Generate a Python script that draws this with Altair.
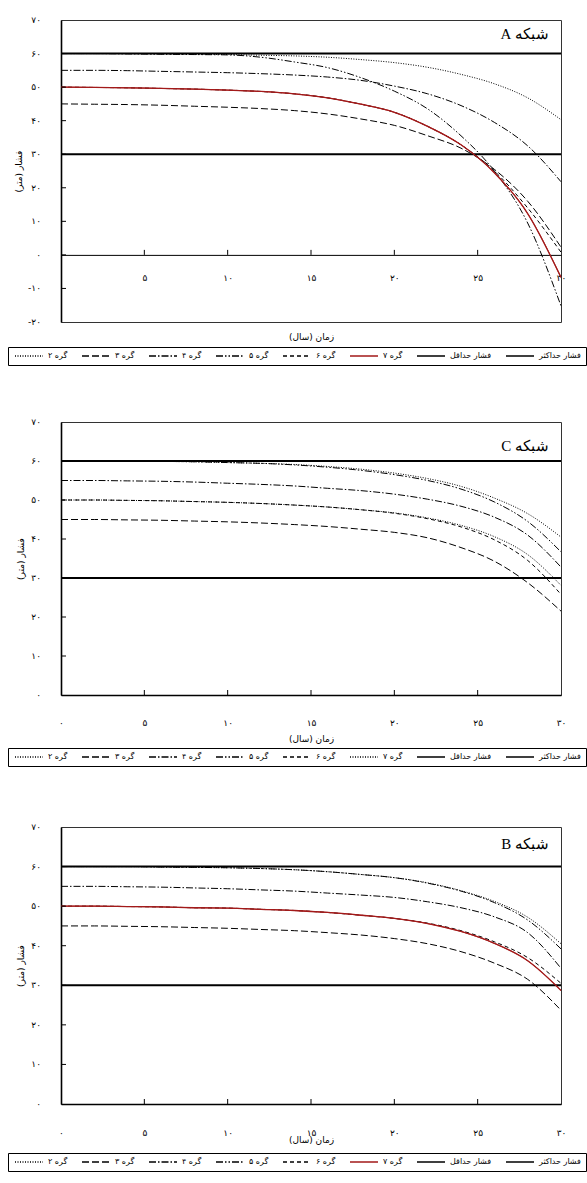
import altair as alt
import pandas as pd

# Simulation years (x) and pressure head in metres for each node
years = [0, 2, 4, 6, 8, 10, 12, 14, 16, 18, 20, 22, 24, 26, 28, 30]

# Network A
a_node2 = [60.0, 60.0, 60.0, 59.9, 59.8, 59.7, 59.5, 59.3, 58.9, 58.2, 57.3, 55.9, 53.8, 51.0, 46.8, 40.3]
a_node3 = [45.0, 44.9, 44.8, 44.6, 44.3, 44.0, 43.6, 43.0, 42.0, 40.5, 38.6, 35.5, 31.8, 25.5, 16.0, 2.3]
a_node4 = [55.0, 55.0, 54.9, 54.7, 54.5, 54.3, 54.0, 53.6, 53.0, 52.0, 50.3, 48.0, 44.5, 39.5, 32.5, 21.8]
a_node5 = [60.0, 60.0, 59.9, 59.8, 59.7, 59.6, 58.9, 57.5, 55.8, 52.8, 48.8, 43.5, 35.5, 25.0, 9.5, -15.2]
a_node6 = [50.0, 49.9, 49.8, 49.6, 49.4, 49.1, 48.7, 48.0, 46.8, 44.9, 42.5, 38.3, 32.8, 25.0, 14.0, 0.8]
a_node7 = [50.0, 49.9, 49.8, 49.6, 49.4, 49.1, 48.7, 48.0, 46.8, 44.9, 42.5, 38.3, 32.8, 24.5, 12.3, -6.7]

# Network C
c_node2 = [60.0, 60.0, 60.0, 59.9, 59.8, 59.6, 59.4, 59.1, 58.6, 57.9, 56.9, 55.5, 53.5, 50.5, 46.5, 40.5]
c_node3 = [45.0, 45.0, 44.9, 44.8, 44.6, 44.4, 44.1, 43.7, 43.2, 42.5, 41.7, 40.3, 37.8, 34.3, 28.8, 21.5]
c_node4 = [55.0, 55.0, 54.9, 54.8, 54.6, 54.3, 54.0, 53.6, 53.0, 52.4, 51.5, 50.2, 48.4, 45.6, 41.0, 32.8]
c_node5 = [60.0, 60.0, 60.0, 59.9, 59.8, 59.6, 59.4, 59.0, 58.4, 57.6, 56.5, 55.0, 52.8, 49.5, 44.5, 36.7]
c_node6 = [50.0, 50.0, 49.9, 49.8, 49.6, 49.4, 49.1, 48.7, 48.2, 47.5, 46.6, 45.2, 43.1, 39.8, 34.5, 25.8]
c_node7 = [50.0, 50.0, 49.9, 49.8, 49.6, 49.4, 49.1, 48.7, 48.2, 47.5, 46.7, 45.4, 43.5, 40.6, 36.0, 28.1]

# Network B
b_node2 = [60.0, 60.0, 60.0, 59.9, 59.8, 59.7, 59.5, 59.2, 58.7, 58.0, 57.2, 55.9, 53.9, 51.2, 47.2, 40.5]
b_node3 = [45.0, 45.0, 44.9, 44.8, 44.6, 44.4, 44.1, 43.8, 43.3, 42.7, 41.8, 40.5, 38.5, 35.6, 31.5, 23.7]
b_node4 = [55.0, 55.0, 54.9, 54.8, 54.6, 54.4, 54.1, 53.8, 53.3, 52.8, 52.2, 51.1, 49.6, 47.3, 43.3, 34.3]
b_node5 = [60.0, 60.0, 60.0, 59.9, 59.8, 59.7, 59.5, 59.2, 58.7, 58.0, 57.2, 55.8, 53.8, 50.9, 46.5, 39.2]
b_node6 = [50.0, 50.0, 49.9, 49.8, 49.6, 49.5, 49.2, 48.9, 48.4, 47.7, 46.9, 45.7, 43.8, 41.0, 37.0, 30.5]
b_node7 = [50.0, 50.0, 49.9, 49.8, 49.6, 49.5, 49.2, 48.9, 48.4, 47.7, 46.9, 45.6, 43.6, 40.6, 36.2, 28.7]

# Allowed pressure band
limit_years = [0, 30]
max_pressure = 60
min_pressure = 30

node_names = ["گره ۲", "گره ۳", "گره ۴", "گره ۵", "گره ۶", "گره ۷"]
min_name = "فشار حداقل"
max_name = "فشار حداکثر"
series_order = node_names + [min_name, max_name]

# Tick values and their Persian-digit labels
y_values_a = [-20, -10, 0, 10, 20, 30, 40, 50, 60, 70]
y_labels_a = ["-۲۰", "-۱۰", "۰", "۱۰", "۲۰", "۳۰", "۴۰", "۵۰", "۶۰", "۷۰"]
y_values_bc = [0, 10, 20, 30, 40, 50, 60, 70]
y_labels_bc = ["۰", "۱۰", "۲۰", "۳۰", "۴۰", "۵۰", "۶۰", "۷۰"]
x_values = [0, 5, 10, 15, 20, 25, 30]
x_labels = ["۰", "۵", "۱۰", "۱۵", "۲۰", "۲۵", "۳۰"]

FONT = "DejaVu Sans"
SERIF = "Liberation Serif"
RED = "#a31a1a"
WIDTH = 500
TICK = 5  # inward tick length, px

SOLID = [1, 0]
DOT = [1, 1.5]
LONG_DASH = [7, 3]
DASH_DOT = [7, 2, 1.5, 2]
DASH_DOT_DOT = [7, 2, 1.5, 2, 1.5, 2]
DASH = [4, 3]

# long, thin legend key: a horizontal stroke drawn to the right of the slot
LEGEND_KEY = "M-1,0H13"


def persian_expr(values, labels):
    parts = [f"datum.value == {v} ? '{l}'" for v, l in zip(values, labels)]
    return " : ".join(parts) + " : ''"


def frame(nodes):
    rows = []
    for name, vals in zip(node_names, nodes):
        for t, v in zip(years, vals):
            rows.append({"t": t, "value": v, "series": name, "w": 1.0})
    for name, level in ((min_name, min_pressure), (max_name, max_pressure)):
        for t in limit_years:
            rows.append({"t": t, "value": level, "series": name, "w": 2.0})
    return pd.DataFrame(rows)


def panel(nodes, title, y_vals, y_labs, height, title_y, red_node7,
          x_shown, x_label_pad, x_title_pad, y_title_pad, legend_y):
    df = frame(nodes)
    ymin = y_vals[0]
    at_zero = ymin < 0
    # pixel row of the horizontal axis (the zero line for network A)
    axis_row = height * 70 / (70 - ymin) if at_zero else height
    offset = axis_row - height

    colors = ["black"] * 8
    dashes = [DOT, LONG_DASH, DASH_DOT, DASH_DOT_DOT, DASH,
              SOLID if red_node7 else DOT, SOLID, SOLID]
    if red_node7:
        colors[5] = RED

    legend = alt.Legend(
        title=None, orient="none", legendX=-53, legendY=legend_y,
        direction="horizontal", columns=8, symbolType=LEGEND_KEY,
        symbolSize=16, symbolStrokeWidth=1.3, labelFont=FONT,
        labelFontSize=8, labelColor="black", labelOffset=27,
        columnPadding=11, padding=5, strokeColor="black",
        fillColor="white", labelLimit=0,
    )

    x_axis = alt.Axis(
        values=x_shown, labelExpr=persian_expr(x_values, x_labels),
        title="زمان (سال)", ticks=False, grid=False,
        domainColor="black", domainWidth=1 if at_zero else 1.6,
        labelPadding=x_label_pad, titlePadding=x_title_pad,
        labelFlush=False, labelOverlap=False, offset=offset,
        labelFont=FONT, labelFontSize=9, titleFont=FONT, titleFontSize=9,
        titleFontWeight="normal", labelColor="black", titleColor="black",
    )
    # y tick labels are drawn as a text layer below; the axis keeps line + title
    y_axis = alt.Axis(
        values=y_vals, labels=False, title="فشار (متر)", ticks=False,
        grid=False, domainColor="black", domainWidth=1.6,
        titlePadding=y_title_pad, titleFont=FONT, titleFontSize=9,
        titleFontWeight="normal", titleColor="black",
    )

    x_enc = alt.X("t:Q", scale=alt.Scale(domain=[0, 30], nice=False), axis=x_axis)
    y_enc = alt.Y("value:Q", scale=alt.Scale(domain=[ymin, 70], nice=False, zero=False), axis=y_axis)

    lines = alt.Chart(df).mark_line(interpolate="monotone").encode(
        x=x_enc,
        y=y_enc,
        color=alt.Color("series:N", scale=alt.Scale(domain=series_order, range=colors), legend=legend),
        strokeDash=alt.StrokeDash("series:N", scale=alt.Scale(domain=series_order, range=dashes), legend=legend),
        strokeWidth=alt.StrokeWidth("w:Q", scale=None),
    )

    layers = [lines]
    if red_node7:
        layers.append(
            alt.Chart(df).transform_filter(alt.datum.series == node_names[5])
            .mark_line(interpolate="monotone", color=RED, strokeWidth=1.3)
            .encode(x="t:Q", y="value:Q")
        )

    # inward tick marks on both axes
    x_ticks = pd.DataFrame({"t": x_values[1:-1]})
    layers.append(
        alt.Chart(x_ticks).mark_rule(color="black", strokeWidth=1).encode(
            x="t:Q", y=alt.value(axis_row), y2=alt.value(axis_row - TICK),
        )
    )
    y_ticks = pd.DataFrame({"value": y_vals[1:-1]})
    layers.append(
        alt.Chart(y_ticks).mark_rule(color="black", strokeWidth=1).encode(
            y="value:Q", x=alt.value(0), x2=alt.value(TICK),
        )
    )

    # y tick labels in Persian digits
    y_text = pd.DataFrame({"value": y_vals, "label": y_labs})
    layers.append(
        alt.Chart(y_text).mark_text(
            align="right", baseline="middle", font=FONT, fontSize=9, color="black"
        ).encode(y="value:Q", text="label:N", x=alt.value(-20))
    )

    layers.append(
        alt.Chart(pd.DataFrame({"label": [title]})).mark_text(
            align="right", baseline="middle", font=SERIF, fontSize=15, color="black"
        ).encode(text="label:N", x=alt.value(WIDTH - 12), y=alt.value(title_y))
    )

    return alt.layer(*layers).properties(width=WIDTH, height=height)


panel_a = panel([a_node2, a_node3, a_node4, a_node5, a_node6, a_node7],
                "\u202bشبکه A\u202c", y_values_a, y_labels_a, 302, 14, True,
                x_values[1:], 19, 50, 38, 327)
panel_c = panel([c_node2, c_node3, c_node4, c_node5, c_node6, c_node7],
                "\u202bشبکه C\u202c", y_values_bc, y_labels_bc, 273, 24, False,
                x_values, 23, 7, 36, 326)
panel_b = panel([b_node2, b_node3, b_node4, b_node5, b_node6, b_node7],
                "\u202bشبکه B\u202c", y_values_bc, y_labels_bc, 277, 17, True,
                x_values, 24, -2, 36, 326)

resolve_channels = dict(color="independent", strokeDash="independent",
                        x="independent", y="independent")

lower = alt.vconcat(panel_c, panel_b, spacing=132, bounds="flush") \
    .resolve_scale(**resolve_channels) \
    .resolve_legend(color="independent", strokeDash="independent")

chart = alt.vconcat(panel_a, lower, spacing=100, bounds="flush") \
    .resolve_scale(**resolve_channels) \
    .resolve_legend(color="independent", strokeDash="independent") \
    .properties(padding={"left": 7, "top": 15, "right": 0, "bottom": 4}, background="white") \
    .configure_view(stroke="#333333", strokeWidth=1)

chart.save("out.html", embed_options={"renderer": "svg", "actions": False})
